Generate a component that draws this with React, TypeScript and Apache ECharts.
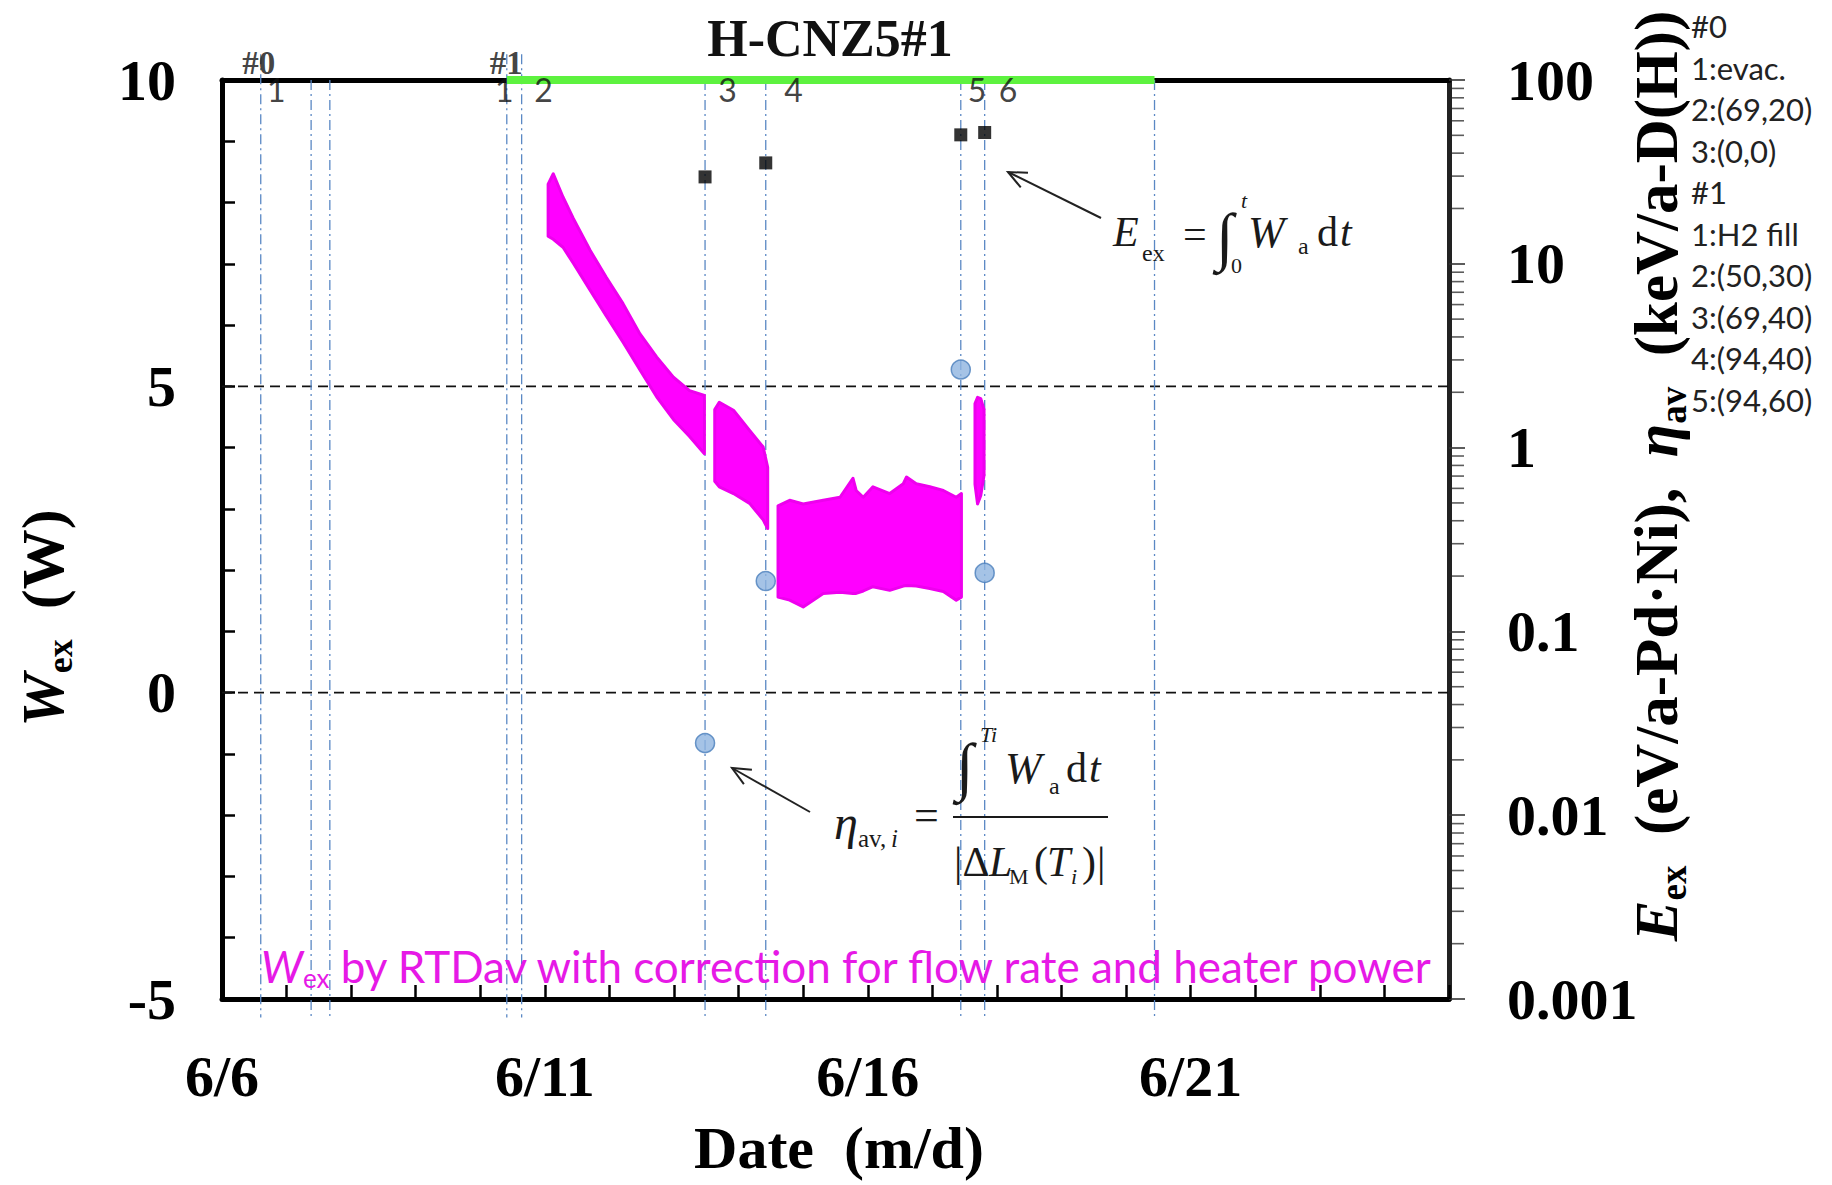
import React, { useEffect, useRef } from 'react';
import * as echarts from 'echarts';

// ---------- axis ticks ----------
const xTickDays = [0, 5, 10, 15];
const xTickLabels = ['6/6', '6/11', '6/16', '6/21'];
const leftTickValues = [-5, 0, 5, 10];
const leftTickLabels = ['-5', '0', '5', '10'];
const rightTickValues = [0.001, 0.01, 0.1, 1, 10, 100];
const rightTickLabels = ['0.001', '0.01', '0.1', '1', '10', '100'];
const logDecades = [0.001, 0.01, 0.1, 1, 10];
const logMinorMultipliers = [2, 3, 4, 5, 6, 7, 8, 9];

// ---------- events (days after 6/6) ----------
const eventDays = [0.6, 1.38, 1.67, 4.41, 4.64, 7.48, 8.42, 11.44, 11.81, 14.44];
const refLevels = [5, 0];
const greenSpanDays = [4.41, 14.44];
const greenLevel = 10;

const eventLabelText = ['#0', '1', '#1', '1', '2', '3', '4', '5', '6'];
const eventLabelDay = [0.57, 0.84, 4.4, 4.37, 4.98, 7.83, 8.85, 11.69, 12.17];
const eventLabelLevel = [10.27, 9.85, 10.27, 9.85, 9.85, 9.85, 9.85, 9.85, 9.85];

// ---------- E_ex (squares) and eta_av (circles), right log axis ----------
const eexDays = [7.48, 8.42, 11.44, 11.81];
const eexValues = [29.7, 35.4, 50.3, 51.8];
const etaDays = [7.48, 8.42, 11.44, 11.81];
const etaValues = [0.0247, 0.188, 2.66, 0.208];

// ---------- W_ex point cloud envelope (upper / lower edges) ----------
const seg1Day = [5.05, 5.13, 5.28, 5.44, 5.7, 5.95, 6.21, 6.47, 6.73, 6.99, 7.24, 7.47];
const seg1Hi = [8.3, 8.47, 8.09, 7.74, 7.22, 6.78, 6.35, 5.86, 5.48, 5.15, 4.93, 4.85];
const seg1Lo = [7.45, 7.4, 7.27, 7.01, 6.57, 6.15, 5.72, 5.27, 4.83, 4.46, 4.18, 3.9];

const seg2Day = [7.63, 7.7, 7.92, 8.17, 8.38, 8.45];
const seg2Hi = [4.62, 4.74, 4.61, 4.28, 4.01, 3.68];
const seg2Lo = [3.45, 3.36, 3.25, 3.09, 2.82, 2.68];

const seg3Day = [8.61, 8.79, 9.0, 9.31, 9.57, 9.77, 9.82, 9.93, 10.08, 10.34, 10.55, 10.6, 10.75, 10.96, 11.17, 11.37, 11.45];
const seg3Hi = [3.05, 3.14, 3.08, 3.14, 3.19, 3.5, 3.3, 3.19, 3.36, 3.25, 3.41, 3.52, 3.41, 3.36, 3.3, 3.19, 3.25];
const seg3Lo = [1.56, 1.51, 1.4, 1.62, 1.64, 1.62, 1.62, 1.66, 1.73, 1.67, 1.74, 1.75, 1.74, 1.7, 1.65, 1.51, 1.56];

const seg4Day = [11.66, 11.7, 11.75, 11.8];
const seg4Hi = [4.72, 4.82, 4.8, 4.62];
const seg4Lo = [3.4, 3.08, 3.22, 3.55];

const legendLines = ['#0', '1:evac.', '2:(69,20)', '3:(0,0)', '#1', '1:H2 fill', '2:(50,30)', '3:(69,40)', '4:(94,40)', '5:(94,60)'];

const SERIF = '"Liberation Serif", "Times New Roman", serif';
const SANS = 'Lato, "Liberation Sans", sans-serif';

function txt(text: string, x: number, y: number, o: any = {}) {
  return {
    type: 'text',
    x,
    y,
    rotation: o.rotation || 0,
    silent: true,
    z: 100,
    style: {
      text,
      fill: o.fill || '#111',
      fontFamily: o.fontFamily || SERIF,
      fontSize: o.fontSize || 40,
      fontWeight: o.fontWeight || 'normal',
      fontStyle: o.fontStyle || 'normal',
      textAlign: o.textAlign || 'left',
      textVerticalAlign: o.textVerticalAlign || 'middle',
      rich: o.rich,
    },
  };
}

function arrow(tx: number, ty: number, hx: number, hy: number) {
  const th = Math.atan2(ty - hy, tx - hx);
  const L = 20;
  const a = 0.42;
  return [
    { type: 'line', silent: true, z: 100, shape: { x1: tx, y1: ty, x2: hx, y2: hy }, style: { stroke: '#222', lineWidth: 2 } },
    {
      type: 'polyline',
      silent: true,
      z: 100,
      shape: {
        points: [
          [hx + L * Math.cos(th + a), hy + L * Math.sin(th + a)],
          [hx, hy],
          [hx + L * Math.cos(th - a), hy + L * Math.sin(th - a)],
        ],
      },
      style: { stroke: '#222', lineWidth: 2, fill: 'none' },
    },
  ];
}

function buildOption() {
  const segments = [
    { day: seg1Day, hi: seg1Hi, lo: seg1Lo },
    { day: seg2Day, hi: seg2Hi, lo: seg2Lo },
    { day: seg3Day, hi: seg3Hi, lo: seg3Lo },
    { day: seg4Day, hi: seg4Hi, lo: seg4Lo },
  ];
  const extendedTop = new Set([0, 3, 4]);

  const minorTickData: number[][] = [];
  logDecades.forEach((d) => logMinorMultipliers.forEach((m) => minorTickData.push([19, d * m])));

  const axisFont = { fontFamily: SERIF, fontWeight: 'bold', fontSize: 58, color: '#000' };

  const subRich = (size: number, fill: string, family: string, bold: boolean, lh: number) => ({
    n: { fontFamily: family, fontSize: size, fontWeight: bold ? 'bold' : 'normal', fill, lineHeight: lh, verticalAlign: 'middle' },
    i: { fontFamily: family, fontSize: size, fontStyle: 'italic', fontWeight: bold ? 'bold' : 'normal', fill, lineHeight: lh, verticalAlign: 'middle' },
    s: { fontFamily: family, fontSize: Math.round(size * 0.6), fontWeight: bold ? 'bold' : 'normal', fill, lineHeight: Math.round(size * 0.55), verticalAlign: 'bottom' },
  });

  const graphics: any[] = [
    txt('H-CNZ5#1', 830, 38, { fontSize: 52, fontWeight: 'bold', textAlign: 'center' }),
    txt('Date  (m/d)', 839, 1148, { fontSize: 60, fontWeight: 'bold', textAlign: 'center', fill: '#000' }),
    txt('{i|W}{s|ex}{n|  (W)}', 43, 618, {
      rotation: Math.PI / 2,
      textAlign: 'center',
      rich: subRich(60, '#000', SERIF, true, 70),
    }),
    txt('{i|E}{s|ex}{n|  (eV/a-Pd·Ni),  }{i|η}{s|av}{n|  (keV/a-D(H))}', 1656, 476, {
      rotation: Math.PI / 2,
      textAlign: 'center',
      rich: subRich(61, '#000', SERIF, true, 72),
    }),
    txt('{i|W}{s|ex}{n| by RTDav with correction for flow rate and heater power}', 261, 966, {
      rich: subRich(44, '#e619e6', SANS, false, 50),
    }),
  ];
  legendLines.forEach((l, i) => graphics.push(txt(l, 1691, 26 + 41.5 * i, { fontFamily: SANS, fontSize: 31, fill: '#222' })));

  // formula 1: E_ex = ∫_0^t W_a dt
  const f = '#1a1a1a';
  graphics.push(
    txt('E', 1113, 232, { fontSize: 42, fontStyle: 'italic', fill: f }),
    txt('ex', 1142, 253, { fontSize: 24, fill: f }),
    txt('=', 1183, 234, { fontSize: 42, fill: f }),
    txt('∫', 1216, 236, { fontSize: 64, fill: f }),
    txt('t', 1241, 200, { fontSize: 22, fontStyle: 'italic', fill: f }),
    txt('0', 1231, 265, { fontSize: 22, fill: f }),
    txt('W', 1248, 232, { fontSize: 44, fontStyle: 'italic', fill: f }),
    txt('a', 1298, 246, { fontSize: 24, fill: f }),
    txt('d', 1317, 232, { fontSize: 42, fill: f }),
    txt('t', 1340, 232, { fontSize: 42, fontStyle: 'italic', fill: f })
  );
  // formula 2: eta_av,i = ∫^Ti W_a dt / |ΔL_M(T_i)|
  graphics.push(
    txt('η', 834, 822, { fontSize: 48, fontStyle: 'italic', fill: f }),
    txt('av,', 858, 838, { fontSize: 25, fill: f }),
    txt('i', 891, 838, { fontSize: 25, fontStyle: 'italic', fill: f }),
    txt('=', 914, 815, { fontSize: 44, fill: f }),
    { type: 'line', silent: true, z: 100, shape: { x1: 953, y1: 817, x2: 1108, y2: 817 }, style: { stroke: f, lineWidth: 1.8 } },
    txt('∫', 956, 766, { fontSize: 64, fill: f }),
    txt('Ti', 980, 734, { fontSize: 22, fontStyle: 'italic', fill: f }),
    txt('W', 1005, 768, { fontSize: 44, fontStyle: 'italic', fill: f }),
    txt('a', 1049, 786, { fontSize: 24, fill: f }),
    txt('d', 1066, 768, { fontSize: 42, fill: f }),
    txt('t', 1089, 768, { fontSize: 42, fontStyle: 'italic', fill: f }),
    txt('|Δ', 954, 862, { fontSize: 42, fill: f }),
    txt('L', 989, 862, { fontSize: 42, fontStyle: 'italic', fill: f }),
    txt('M', 1009, 876, { fontSize: 22, fill: f }),
    txt('(', 1034, 862, { fontSize: 42, fill: f }),
    txt('T', 1047, 862, { fontSize: 42, fontStyle: 'italic', fill: f }),
    txt('i', 1071, 876, { fontSize: 22, fontStyle: 'italic', fill: f }),
    txt(')', 1082, 862, { fontSize: 42, fill: f }),
    txt('|', 1097, 862, { fontSize: 42, fill: f })
  );
  graphics.push(...arrow(1101, 218, 1008, 172), ...arrow(810, 812, 732, 768));

  return {
    animation: false,
    backgroundColor: '#fff',
    grid: { left: 222, top: 80, right: 383, bottom: 186, containLabel: false },
    xAxis: [
      {
        type: 'value',
        min: 0,
        max: 19,
        interval: 1,
        position: 'bottom',
        axisLine: { show: true, onZero: false, lineStyle: { color: '#000', width: 5 } },
        axisTick: { show: true, inside: true, length: 14, lineStyle: { color: '#000', width: 2.5 } },
        axisLabel: {
          ...axisFont,
          margin: 48,
          formatter: (v: number) => {
            const i = xTickDays.findIndex((d) => Math.abs(d - v) < 1e-6);
            return i >= 0 ? xTickLabels[i] : '';
          },
        },
        splitLine: { show: false },
      },
      {
        type: 'value',
        min: 0,
        max: 19,
        position: 'top',
        axisLine: { show: true, onZero: false, lineStyle: { color: '#000', width: 5 } },
        axisTick: { show: false },
        axisLabel: { show: false },
        splitLine: { show: false },
      },
    ],
    yAxis: [
      {
        type: 'value',
        min: -5,
        max: 10,
        interval: 5,
        position: 'left',
        axisLine: { show: true, onZero: false, lineStyle: { color: '#000', width: 5 } },
        axisTick: { show: true, inside: true, length: 13, lineStyle: { color: '#000', width: 2.5 } },
        minorTick: { show: true, splitNumber: 5, length: 13, lineStyle: { color: '#000', width: 2.5 } },
        axisLabel: {
          ...axisFont,
          margin: 46,
          formatter: (v: number) => {
            const i = leftTickValues.findIndex((d) => Math.abs(d - v) < 1e-6);
            return i >= 0 ? leftTickLabels[i] : '';
          },
        },
        splitLine: { show: false },
        minorSplitLine: { show: false },
      },
      {
        type: 'log',
        logBase: 10,
        min: 0.001,
        max: 100,
        position: 'right',
        axisLine: { show: true, onZero: false, lineStyle: { color: '#222', width: 5 } },
        axisTick: { show: true, inside: false, length: 16, lineStyle: { color: '#333', width: 1.6 } },
        minorTick: { show: false },
        axisLabel: {
          ...axisFont,
          margin: 58,
          formatter: (v: number) => {
            const i = rightTickValues.findIndex((d) => Math.abs(Math.log10(d) - Math.log10(v)) < 0.01);
            return i >= 0 ? rightTickLabels[i] : '';
          },
        },
        splitLine: { show: false },
      },
    ],
    graphic: { elements: graphics },
    series: [
      {
        name: 'refLines',
        type: 'custom',
        xAxisIndex: 0,
        yAxisIndex: 0,
        silent: true,
        z: 1,
        data: refLevels.map((v) => [0, v]),
        encode: { x: 0, y: 1 },
        renderItem: (_p: any, api: any) => {
          const v = api.value(1);
          const a = api.coord([0, v]);
          const b = api.coord([19, v]);
          return {
            type: 'line',
            shape: { x1: a[0], y1: a[1], x2: b[0], y2: b[1] },
            style: { stroke: '#111', lineWidth: 1.6, lineDash: [10, 6] },
          };
        },
      },
      {
        name: 'events',
        type: 'custom',
        xAxisIndex: 0,
        yAxisIndex: 0,
        silent: true,
        z: 1,
        data: eventDays.map((d, i) => [d, 10, i]),
        encode: { x: 0, y: 1 },
        renderItem: (_p: any, api: any) => {
          const d = api.value(0);
          const i = api.value(2);
          const a = api.coord([d, extendedTop.has(i) ? 10.42 : 10]);
          const b = api.coord([d, -5.3]);
          return {
            type: 'line',
            shape: { x1: a[0], y1: a[1], x2: b[0], y2: b[1] },
            style: { stroke: '#5a88c4', lineWidth: 1.3, lineDash: [10, 4, 2, 4] },
          };
        },
      },
      {
        name: 'Wex',
        type: 'custom',
        xAxisIndex: 0,
        yAxisIndex: 0,
        silent: true,
        z: 2,
        data: segments.map((s, i) => [s.day[0], s.hi[0], i]),
        encode: { x: 0, y: 1 },
        renderItem: (_p: any, api: any) => {
          const s = segments[api.value(2)];
          const pts: number[][] = [];
          s.day.forEach((d, k) => pts.push(api.coord([d, s.hi[k]])));
          for (let k = s.day.length - 1; k >= 0; k--) pts.push(api.coord([s.day[k], s.lo[k]]));
          return {
            type: 'polygon',
            shape: { points: pts },
            style: { fill: '#ff00ff', stroke: '#ee00ee', lineWidth: 3, lineJoin: 'round' },
          };
        },
      },
      {
        name: 'green',
        type: 'line',
        xAxisIndex: 0,
        yAxisIndex: 0,
        clip: false,
        silent: true,
        symbol: 'none',
        z: 6,
        lineStyle: { color: '#5df23f', width: 8 },
        data: greenSpanDays.map((d) => [d, greenLevel]),
      },
      {
        name: 'Eex',
        type: 'scatter',
        xAxisIndex: 0,
        yAxisIndex: 1,
        symbol: 'rect',
        symbolSize: 13,
        z: 5,
        itemStyle: { color: '#000' },
        data: eexDays.map((d, i) => [d, eexValues[i]]),
      },
      {
        name: 'eta',
        type: 'scatter',
        xAxisIndex: 0,
        yAxisIndex: 1,
        symbol: 'circle',
        symbolSize: 19,
        z: 5,
        itemStyle: { color: '#8fb4e0', borderColor: '#4a7ebb', borderWidth: 1.5 },
        data: etaDays.map((d, i) => [d, etaValues[i]]),
      },
      {
        name: 'rightMinorTicks',
        type: 'scatter',
        xAxisIndex: 0,
        yAxisIndex: 1,
        clip: false,
        silent: true,
        symbol: 'rect',
        symbolSize: [12, 1.6],
        symbolOffset: [9, 0],
        z: 3,
        itemStyle: { color: '#333' },
        data: minorTickData,
      },
      {
        name: 'eventLabels',
        type: 'scatter',
        xAxisIndex: 0,
        yAxisIndex: 0,
        clip: false,
        silent: true,
        symbolSize: 1,
        z: 7,
        itemStyle: { color: 'rgba(0,0,0,0)' },
        data: eventLabelText.map((t, i) => ({
          value: [eventLabelDay[i], eventLabelLevel[i]],
          label: {
            show: true,
            position: 'inside',
            formatter: t,
            color: '#111',
            fontFamily: t.startsWith('#') ? SERIF : SANS,
            fontWeight: t.startsWith('#') ? 'bold' : 'normal',
            fontSize: t.startsWith('#') ? 33 : 32,
            lineHeight: t.startsWith('#') ? 24 : 24,
          },
        })),
      },
    ],
  };
}

export default function App() {
  const ref = useRef<HTMLDivElement>(null);
  useEffect(() => {
    const chart = echarts.init(ref.current as HTMLDivElement, null, { renderer: 'svg' });
    chart.setOption(buildOption() as any);
    return () => chart.dispose();
  }, []);
  return (
    <div
      ref={ref}
      style={{ position: 'fixed', left: 0, top: 0, width: 1832, height: 1185, background: '#fff' }}
    />
  );
}
